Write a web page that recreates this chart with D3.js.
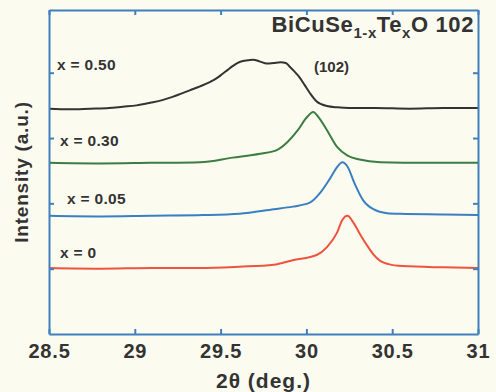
<!DOCTYPE html>
<html>
<head>
<meta charset="utf-8">
<script src="https://cdn.jsdelivr.net/npm/d3@7"></script>
<style>
  body { margin: 0; background: #fcfbef; }
  svg { display: block; }
  text { font-family: 'Liberation Sans', Arial, sans-serif; font-weight: bold; fill: #333; }
</style>
</head>
<body>
<div id="chart"></div>
<script>
// XRD scans, 2theta (deg) vs stacked intensity (a.u.)
const x050 = [28.5, 28.62, 28.74, 28.85, 28.93, 29.01, 29.09, 29.16, 29.22, 29.27, 29.32, 29.38, 29.44, 29.48, 29.51, 29.54, 29.57, 29.6, 29.63, 29.66, 29.69, 29.73, 29.77, 29.81, 29.85, 29.88, 29.9, 29.93, 29.96, 29.99, 30.02, 30.06, 30.12, 30.18, 30.25, 30.4, 30.6, 30.8, 31.0]
const y050 = [3.45, 3.44, 3.45, 3.46, 3.48, 3.5, 3.54, 3.58, 3.63, 3.68, 3.73, 3.79, 3.86, 3.92, 3.98, 4.04, 4.1, 4.15, 4.18, 4.19, 4.2, 4.17, 4.14, 4.15, 4.16, 4.15, 4.1, 4.02, 3.93, 3.81, 3.69, 3.56, 3.49, 3.47, 3.46, 3.46, 3.45, 3.46, 3.46]

const x030 = [28.5, 28.8, 29.09, 29.38, 29.57, 29.73, 29.83, 29.89, 29.95, 30.0, 30.04, 30.07, 30.12, 30.18, 30.24, 30.31, 30.43, 30.7, 31.0]
const y030 = [2.62, 2.61, 2.62, 2.63, 2.7, 2.76, 2.82, 2.94, 3.12, 3.31, 3.4, 3.32, 3.12, 2.86, 2.73, 2.67, 2.63, 2.62, 2.62]

const x005 = [28.5, 28.8, 29.09, 29.4, 29.61, 29.81, 29.92, 30.02, 30.08, 30.14, 30.18, 30.21, 30.24, 30.28, 30.33, 30.39, 30.47, 30.55, 30.8, 31.0]
const y005 = [1.81, 1.8, 1.81, 1.82, 1.84, 1.91, 1.95, 2.01, 2.16, 2.39, 2.56, 2.63, 2.56, 2.31, 2.05, 1.91, 1.85, 1.84, 1.83, 1.82]

const x000 = [28.5, 28.8, 29.1, 29.38, 29.61, 29.81, 29.92, 30.06, 30.12, 30.18, 30.21, 30.24, 30.27, 30.31, 30.35, 30.39, 30.43, 30.48, 30.56, 30.8, 31.0]
const y000 = [1.01, 1.0, 1.01, 1.01, 1.03, 1.06, 1.13, 1.21, 1.33, 1.56, 1.75, 1.81, 1.72, 1.54, 1.37, 1.22, 1.12, 1.07, 1.04, 1.02, 1.01]

const seriesNames = ['x = 0.50', 'x = 0.30', 'x = 0.05', 'x = 0']
const seriesColors = ['#333333', '#3b7d42', '#3a7fc1', '#f0533d']
const xTicks = [28.5, 29, 29.5, 30, 30.5, 31]
const xTickLabels = ['28.5', '29', '29.5', '30', '30.5', '31']
const yTicks = [1, 2, 3, 4]

const margin = { top: 10, left: 49, right: 18, bottom: 58 }
const width = 496 - margin.left - margin.right
const height = 392 - margin.top - margin.bottom

const svg = d3
  .select('#chart')
  .append('svg')
  .attr('width', 496)
  .attr('height', 392)

const g = svg
  .append('g')
  .attr('transform', `translate(${margin.left},${margin.top})`)

const xScale = d3.scaleLinear().domain([28.5, 31]).range([0, width])
const yScale = d3.scaleLinear().domain([0, 4.96]).range([height, 0])

const line = d3
  .line()
  .x(d => xScale(d[0]))
  .y(d => yScale(d[1]))
  .curve(d3.curveMonotoneX)

const curves = [
  d3.zip(x050, y050),
  d3.zip(x030, y030),
  d3.zip(x005, y005),
  d3.zip(x000, y000)
]

g.selectAll('.scan')
  .data(curves)
  .enter()
  .append('path')
  .attr('class', 'scan')
  .attr('d', line)
  .attr('fill', 'none')
  .attr('stroke', (d, i) => seriesColors[i])
  .attr('stroke-width', 2)
  .attr('stroke-linejoin', 'round')

// axes, ticks pointing inward
const frameColor = '#3f80c0'
const xAxis = d3.axisBottom(xScale).tickValues(xTicks)
  .tickFormat((d, i) => xTickLabels[i]).tickSizeInner(-5).tickSizeOuter(0).tickPadding(10)
const xTop = d3.axisTop(xScale).tickValues(xTicks).tickFormat('').tickSizeInner(-5).tickSizeOuter(0)
const yLeft = d3.axisLeft(yScale).tickValues(yTicks).tickFormat('').tickSizeInner(-5).tickSizeOuter(0)
const yRight = d3.axisRight(yScale).tickValues(yTicks).tickFormat('').tickSizeInner(-5).tickSizeOuter(0)

const axes = [
  g.append('g').attr('transform', `translate(0,${height})`).call(xAxis),
  g.append('g').call(xTop),
  g.append('g').call(yLeft),
  g.append('g').attr('transform', `translate(${width},0)`).call(yRight)
]
axes.forEach(a => {
  a.selectAll('path, line').attr('stroke', frameColor).attr('stroke-width', 2)
  a.selectAll('text').style('font-size', '20px').style('letter-spacing', '0.8px')
    .attr('fill', '#333').style('font-family', null)
})

// series labels
const labelPos = [[57, 70], [60, 146], [67, 204], [60, 258]]
g.selectAll('.series-label')
  .data(seriesNames)
  .enter()
  .append('text')
  .attr('class', 'series-label')
  .attr('x', (d, i) => labelPos[i][0] - margin.left)
  .attr('y', (d, i) => labelPos[i][1] - margin.top)
  .style('font-size', '15.5px')
  .style('letter-spacing', '0.3px')
  .text(d => d)

g.append('text')
  .attr('x', 314 - margin.left)
  .attr('y', 72 - margin.top)
  .style('font-size', '15px')
  .text('(102)')

// title with subscripts
const title = g.append('text')
  .attr('x', 474 - margin.left)
  .attr('y', 32 - margin.top)
  .attr('text-anchor', 'end')
  .style('font-size', '22px')
  .style('letter-spacing', '0.6px')
title.append('tspan').text('BiCuSe')
title.append('tspan').attr('dy', 6).style('font-size', '15px').text('1-x')
title.append('tspan').attr('dy', -6).text('Te')
title.append('tspan').attr('dy', 6).style('font-size', '15px').text('x')
title.append('tspan').attr('dy', -6).text('O 102')

// axis titles
svg.append('text')
  .attr('x', margin.left + width / 2)
  .attr('y', 388)
  .attr('text-anchor', 'middle')
  .style('font-size', '21px')
  .style('letter-spacing', '1px')
  .text('2θ (deg.)')

svg.append('text')
  .attr('transform', `translate(28,${margin.top + height / 2}) rotate(-90)`)
  .attr('text-anchor', 'middle')
  .style('font-size', '19px')
  .style('letter-spacing', '0.8px')
  .text('Intensity (a.u.)')
</script>
</body>
</html>
